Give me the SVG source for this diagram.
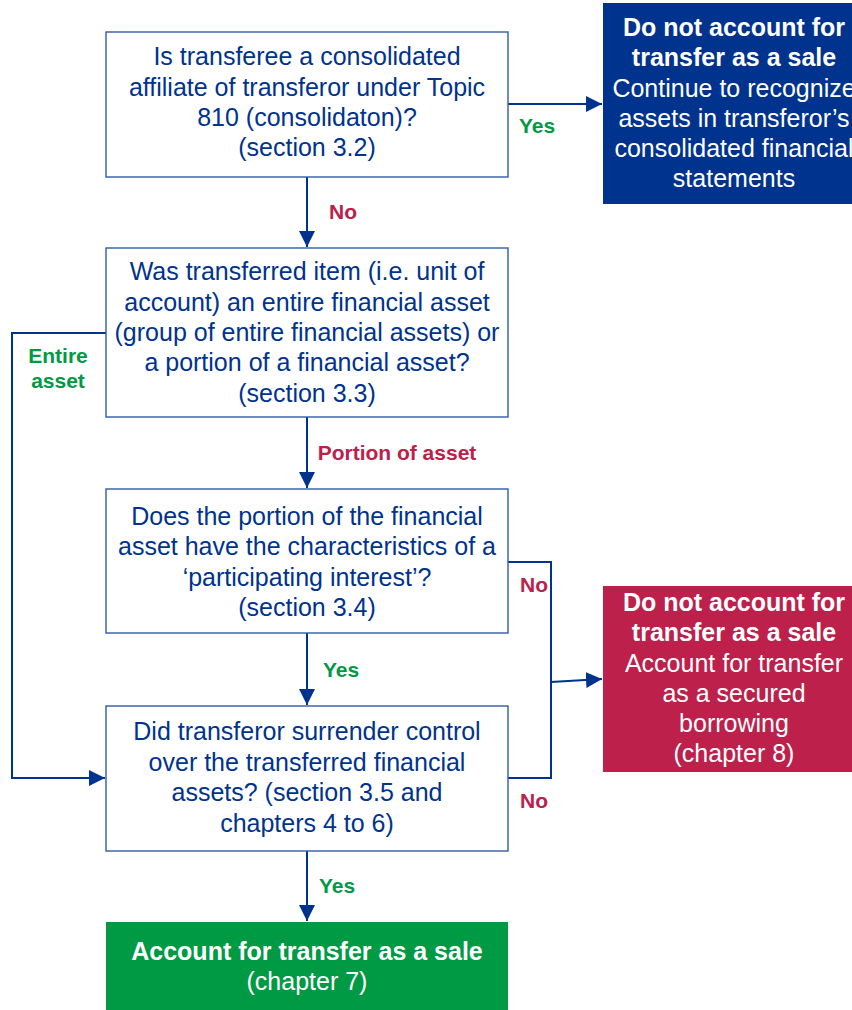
<svg xmlns="http://www.w3.org/2000/svg" width="852" height="1010" viewBox="0 0 852 1010">
  <style>
    .q { fill: #ffffff; stroke: #2F5DA8; stroke-width: 1.4; }
    .qt { font-family: "Liberation Sans", Arial, sans-serif; font-size: 25px; fill: #00338D; text-anchor: middle; }
    .ot { font-family: "Liberation Sans", Arial, sans-serif; font-size: 25px; fill: #ffffff; text-anchor: middle; }
    .b { font-weight: bold; }
    .lbl { font-family: "Liberation Sans", Arial, sans-serif; font-size: 21px; font-weight: bold; text-anchor: middle; }
    .yes { fill: #009A44; }
    .no { fill: #BC204B; }
    .c { fill: none; stroke: #00338D; stroke-width: 2; }
  </style>
  <defs>
    <marker id="ah" viewBox="0 0 16 16" refX="16" refY="8" markerWidth="16" markerHeight="16" markerUnits="userSpaceOnUse" orient="auto">
      <path d="M0,0 L16,8 L0,16 z" fill="#00338D"/>
    </marker>
  </defs>
  <rect width="852" height="1010" fill="#ffffff"/>

  <!-- connectors -->
  <g id="connectors">
    <path class="c" d="M508,104 H602" marker-end="url(#ah)"/>
    <path class="c" d="M307,177 V247" marker-end="url(#ah)"/>
    <path class="c" d="M106,333 H12 V778 H105" marker-end="url(#ah)"/>
    <path class="c" d="M307,417 V488" marker-end="url(#ah)"/>
    <path class="c" d="M508,562 H551 V778 H508"/>
    <path class="c" d="M551,682 L602,679" marker-end="url(#ah)"/>
    <path class="c" d="M307,633 V705" marker-end="url(#ah)"/>
    <path class="c" d="M307,851 V921" marker-end="url(#ah)"/>
  </g>

  <!-- connector labels -->
  <g id="labels">
    <text class="lbl yes" x="537" y="133">Yes</text>
    <text class="lbl no" x="343" y="219">No</text>
    <text class="lbl yes" x="58" y="363">Entire</text>
    <text class="lbl yes" x="58" y="388">asset</text>
    <text class="lbl no" x="397" y="460">Portion of asset</text>
    <text class="lbl no" x="534" y="592">No</text>
    <text class="lbl yes" x="341" y="677">Yes</text>
    <text class="lbl no" x="534" y="808">No</text>
    <text class="lbl yes" x="337" y="893">Yes</text>
  </g>

  <g id="q-consolidated">
    <rect class="q" x="106" y="32" width="402" height="145"/>
    <text class="qt" x="307" y="65">Is transferee a consolidated</text>
    <text class="qt" x="307" y="96">affiliate of transferor under Topic</text>
    <text class="qt" x="307" y="126">810 (consolidaton)?</text>
    <text class="qt" x="307" y="156">(section 3.2)</text>
  </g>

  <!-- outcome box runs past the right edge of the page -->
  <g id="out-not-sale-recognize">
    <rect x="603" y="3" width="262" height="201" fill="#00338D"/>
    <text class="ot b" x="734" y="36">Do not account for</text>
    <text class="ot b" x="734" y="66">transfer as a sale</text>
    <text class="ot" x="734" y="97">Continue to recognize</text>
    <text class="ot" x="734" y="127">assets in transferor’s</text>
    <text class="ot" x="734" y="157">consolidated financial</text>
    <text class="ot" x="734" y="187">statements</text>
  </g>

  <g id="q-unit-of-account">
    <rect class="q" x="106" y="248" width="402" height="169"/>
    <text class="qt" x="307" y="280">Was transferred item (i.e. unit of</text>
    <text class="qt" x="307" y="311">account) an entire financial asset</text>
    <text class="qt" x="307" y="341">(group of entire financial assets) or</text>
    <text class="qt" x="307" y="371">a portion of a financial asset?</text>
    <text class="qt" x="307" y="402">(section 3.3)</text>
  </g>

  <g id="q-participating-interest">
    <rect class="q" x="106" y="489" width="402" height="144"/>
    <text class="qt" x="307" y="525">Does the portion of the financial</text>
    <text class="qt" x="307" y="555">asset have the characteristics of a</text>
    <text class="qt" x="307" y="586">‘participating interest’?</text>
    <text class="qt" x="307" y="616">(section 3.4)</text>
  </g>

  <g id="out-secured-borrowing">
    <rect x="603" y="586" width="262" height="186" fill="#BC204B"/>
    <text class="ot b" x="734" y="611">Do not account for</text>
    <text class="ot b" x="734" y="641">transfer as a sale</text>
    <text class="ot" x="734" y="672">Account for transfer</text>
    <text class="ot" x="734" y="702">as a secured</text>
    <text class="ot" x="734" y="732">borrowing</text>
    <text class="ot" x="734" y="762">(chapter 8)</text>
  </g>

  <g id="q-surrender-control">
    <rect class="q" x="106" y="706" width="402" height="145"/>
    <text class="qt" x="307" y="740">Did transferor surrender control</text>
    <text class="qt" x="307" y="771">over the transferred financial</text>
    <text class="qt" x="307" y="801">assets? (section 3.5 and</text>
    <text class="qt" x="307" y="832">chapters 4 to 6)</text>
  </g>

  <g id="out-sale">
    <rect x="106" y="922" width="402" height="100" fill="#009A44"/>
    <text class="ot b" x="307" y="960">Account for transfer as a sale</text>
    <text class="ot" x="307" y="990">(chapter 7)</text>
  </g>
</svg>
